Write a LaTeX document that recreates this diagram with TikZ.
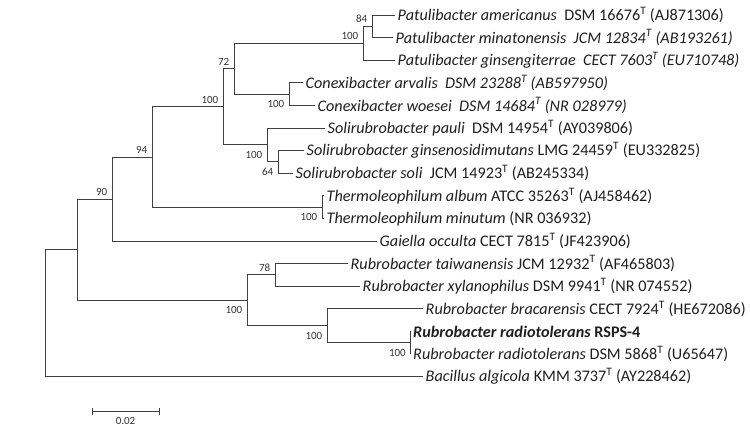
\documentclass[tikz,border=0pt]{standalone}
\usepackage{fontspec}
\usetikzlibrary{calc}
\setmainfont{Carlito}
\begin{document}
\begin{tikzpicture}[x=1pt,y=-1pt,
  br/.style={draw=black!75, line width=1pt},
  leaf/.style={anchor=west, inner xsep=2.5pt, inner ysep=0pt, font=\fontsize{16.2}{19}\selectfont, text=black!88},
  bs/.style={inner sep=0pt, font=\fontsize{11}{13}\selectfont, text=black!80, xshift=-4.5pt},
  bsa/.style={bs, anchor=south east, yshift=3.5pt},
  bsb/.style={bs, anchor=north east, yshift=-6pt}]
\useasboundingbox (0,0) rectangle (750,429);
% internal nodes
\coordinate (root)  at (45,313.1);
\coordinate (A)     at (77,249.6);
\coordinate (n90)   at (112,199);
\coordinate (n94)   at (152,157);
\coordinate (n100a) at (223,106.8);
\coordinate (n72)   at (234,68.7);
\coordinate (pat)   at (363,43.25);
\coordinate (pat1)  at (372,26.3);
\coordinate (con)   at (289,94.1);
\coordinate (sol)   at (267,144.95);
\coordinate (sol2)  at (278,161.9);
\coordinate (therm) at (322,207.1);
\coordinate (rub)   at (247,300.3);
\coordinate (n78)   at (275,274.9);
\coordinate (brac)  at (327,325.8);
\coordinate (rad)   at (410.5,342.7);
% tips
\coordinate (t1)  at (395,15);
\coordinate (t2)  at (393,37.6);
\coordinate (t3)  at (395,60.2);
\coordinate (t4)  at (303,82.8);
\coordinate (t5)  at (315,105.4);
\coordinate (t6)  at (325,128);
\coordinate (t7)  at (304,150.6);
\coordinate (t8)  at (293,173.2);
\coordinate (t9)  at (324,195.8);
\coordinate (t10) at (324,218.4);
\coordinate (t11) at (377,241);
\coordinate (t12) at (348,263.6);
\coordinate (t13) at (360,286.2);
\coordinate (t14) at (423,308.8);
\coordinate (t15) at (410.5,331.4);
\coordinate (t16) at (410.5,354);
\coordinate (t17) at (423,376.6);
% branches
\draw[br] (root) |- (A);   \draw[br] (root) |- (t17);
\draw[br] (A) |- (n90);    \draw[br] (A) |- (rub);
\draw[br] (n90) |- (n94);  \draw[br] (n90) |- (t11);
\draw[br] (n94) |- (n100a);\draw[br] (n94) |- (therm);
\draw[br] (therm) |- (t9); \draw[br] (therm) |- (t10);
\draw[br] (n100a) |- (n72);\draw[br] (n100a) |- (sol);
\draw[br] (n72) |- (pat);  \draw[br] (n72) |- (con);
\draw[br] (pat) |- (pat1); \draw[br] (pat) |- (t3);
\draw[br] (pat1) |- (t1);  \draw[br] (pat1) |- (t2);
\draw[br] (con) |- (t4);   \draw[br] (con) |- (t5);
\draw[br] (sol) |- (t6);   \draw[br] (sol) |- (sol2);
\draw[br] (sol2) |- (t7);  \draw[br] (sol2) |- (t8);
\draw[br] (rub) |- (n78);  \draw[br] (rub) |- (brac);
\draw[br] (n78) |- (t12);  \draw[br] (n78) |- (t13);
\draw[br] (brac) |- (t14); \draw[br] (brac) |- (rad);
\draw[br] (rad) |- (t15);  \draw[br] (rad) |- (t16);
% leaf labels
\node[leaf] (L1)  at (t1)  {\textit{Patulibacter americanus}\ \ DSM 16676\textsuperscript{T} (AJ871306)};
\node[leaf] (L2)  at (t2)  {\textit{Patulibacter minatonensis\ \ JCM 12834\textsuperscript{T} (AB193261)}};
\node[leaf] (L3)  at (t3)  {\textit{Patulibacter ginsengiterrae\ \ CECT 7603\textsuperscript{T} (EU710748)}};
\node[leaf] (L4)  at (t4)  {\textit{Conexibacter arvalis\ \ DSM 23288\textsuperscript{T} (AB597950)}};
\node[leaf] (L5)  at (t5)  {\textit{Conexibacter woesei\ \ DSM 14684\textsuperscript{T} (NR 028979)}};
\node[leaf] (L6)  at (t6)  {\textit{Solirubrobacter pauli}\ \ DSM 14954\textsuperscript{T} (AY039806)};
\node[leaf] (L7)  at (t7)  {\textit{Solirubrobacter ginsenosidimutans} LMG 24459\textsuperscript{T} (EU332825)};
\node[leaf] (L8)  at (t8)  {\textit{Solirubrobacter soli}\ \ JCM 14923\textsuperscript{T} (AB245334)};
\node[leaf] (L9)  at (t9)  {\textit{Thermoleophilum album} ATCC 35263\textsuperscript{T} (AJ458462)};
\node[leaf] (L10) at (t10) {\textit{Thermoleophilum minutum} (NR 036932)};
\node[leaf] (L11) at (t11) {\textit{Gaiella occulta} CECT 7815\textsuperscript{T} (JF423906)};
\node[leaf] (L12) at (t12) {\textit{Rubrobacter taiwanensis} JCM 12932\textsuperscript{T} (AF465803)};
\node[leaf] (L13) at (t13) {\textit{Rubrobacter xylanophilus} DSM 9941\textsuperscript{T} (NR 074552)};
\node[leaf] (L14) at (t14) {\textit{Rubrobacter bracarensis} CECT 7924\textsuperscript{T} (HE672086)};
\node[leaf] (L15) at (t15) {\textbf{\textit{Rubrobacter radiotolerans} RSPS-4}};
\node[leaf] (L16) at (t16) {\textit{Rubrobacter radiotolerans} DSM 5868\textsuperscript{T} (U65647)};
\node[leaf] (L17) at (t17) {\textit{Bacillus algicola} KMM 3737\textsuperscript{T} (AY228462)};
% bootstrap values
\node[bsa] (b84)  at (pat1)  {84};
\node[bsa] (bpat) at (pat)   {100};
\node[bsa] (b72)  at (n72)   {72};
\node[bsa] (b100a) at (n100a) {100};
\node[bsa] (b94)  at (n94)   {94};
\node[bsa] (b90)  at (n90)   {90};
\node[bsa] (b78)  at (n78)   {78};
\node[bsb] (bcon) at (con)   {100};
\node[bsb] (bsol) at (sol)   {100};
\node[bsb] (b64)  at (sol2)  {64};
\node[bsb] (bth)  at (therm) {100};
\node[bsb] (brub) at (rub)   {100};
\node[bsb] (bbr)  at (brac)  {100};
\node[bsb] (brad) at (rad)   {100};
% scale bar
\coordinate (s1) at (92,411);
\coordinate (s2) at (159,411);
\draw[br] (s1) -- (s2);
\draw[br] ([yshift=3.5pt]s1) -- ([yshift=-3.5pt]s1);
\draw[br] ([yshift=3.5pt]s2) -- ([yshift=-3.5pt]s2);
\node[inner sep=0pt, anchor=north, font=\fontsize{11}{13}\selectfont, text=black!80] (sl) at ([yshift=-6pt]$(s1)!0.5!(s2)$) {0.02};
\end{tikzpicture}
\end{document}
